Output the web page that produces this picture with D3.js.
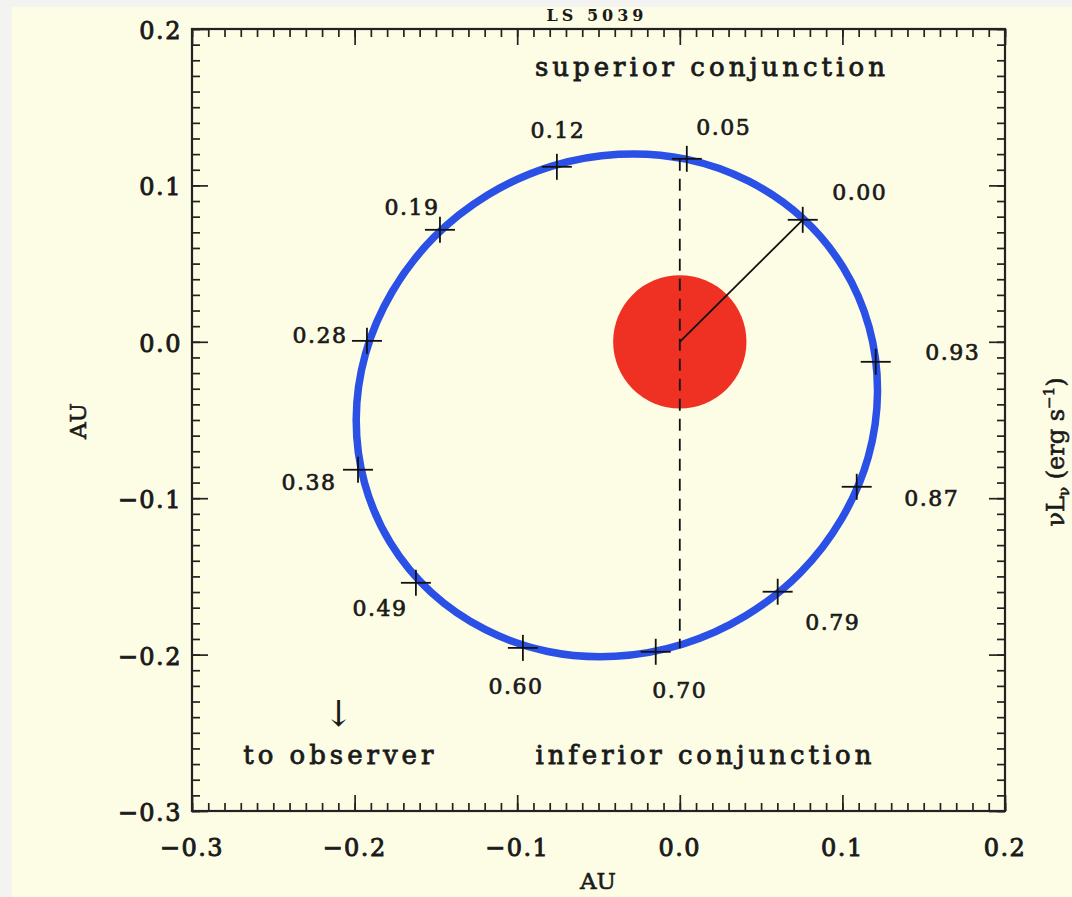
<!DOCTYPE html>
<html><head><meta charset="utf-8">
<script src="https://cdn.jsdelivr.net/npm/d3@7"></script>
<style>
html,body{margin:0;padding:0;background:#f3f3f2;}
svg{display:block;}
text{font-family:"DejaVu Serif",serif;fill:#1a1a1a;}
</style></head><body>
<script>
// ---- data ----
const xTicks = [-0.3,-0.2,-0.1,0.0,0.1,0.2];
const xTickLabels = ["\u22120.3","\u22120.2","\u22120.1","0.0","0.1","0.2"];
const yTicks = [-0.3,-0.2,-0.1,0.0,0.1,0.2];
const yTickLabels = ["\u22120.3","\u22120.2","\u22120.1","0.0","0.1","0.2"];
// orbit points (AU)
const orbitX = [0.0754,0.0424,0.0038,-0.0376,-0.0791,-0.1179,-0.1513,-0.1769,-0.1933,-0.1990,-0.1938,-0.1780,-0.1528,-0.1198,-0.0812,-0.0398,0.0017,0.0405,0.0739,0.0995,0.1159,0.1216,0.1164,0.1006];
const orbitY = [0.0791,0.1027,0.1168,0.1199,0.1122,0.0940,0.0667,0.0320,-0.0076,-0.0493,-0.0906,-0.1285,-0.1603,-0.1839,-0.1980,-0.2011,-0.1934,-0.1752,-0.1479,-0.1132,-0.0736,-0.0319,0.0094,0.0473];
// phase markers
const phaseLabels = ["0.00","0.05","0.12","0.19","0.28","0.38","0.49","0.60","0.70","0.79","0.87","0.93"];
const phaseX = [0.0756,0.0043,-0.0756,-0.1475,-0.1924,-0.1979,-0.1623,-0.0965,-0.0148,0.0602,0.1088,0.1205];
const phaseY = [0.0780,0.1170,0.1119,0.0716,0.0006,-0.0818,-0.1541,-0.1957,-0.1982,-0.1598,-0.0927,-0.0128];
const starX = 0.0, starY = 0.0, starRadiusAU = 0.041;
const periX = 0.0756, periY = 0.0780;
const conjLineY = [0.117, -0.196];
const annotations = ["superior conjunction","inferior conjunction","to observer"];
const annX = [0.0185, 0.0145, -0.210];
const annY = [0.175, -0.265, -0.265];

// ---- layout ----
const W = 1072, H = 897;
const labelDX = [57,37,1,-28,-47,-49,-36,-7,24,55,75,77];
const labelDY = [-28,-32,-37,-23,-6,12,25,38,38,30,11,-10];
const annLen = [350, 336, 190];
const ink = "#1a1a1a";

const svg = d3.select("body").append("svg").attr("width",W).attr("height",H);
svg.append("rect").attr("x",12).attr("y",7).attr("width",W-12).attr("height",H-7).attr("fill","#fdfde5");

const x = d3.scaleLinear().domain([-0.3,0.2]).range([192,1005]);
const y = d3.scaleLinear().domain([-0.3,0.2]).range([811,29]);

// title (near top edge)
svg.append("text").attr("x",597).attr("y",21).attr("text-anchor","middle")
  .attr("font-size",16).attr("font-weight","bold").attr("letter-spacing",4).text("LS 5039");

// minor / major ticks
const minor = d3.range(-30,21).map(d=>d/100);
function addAxis(gen, tr, vals, size){
  const g = svg.append("g").attr("transform",tr).call(gen.tickValues(vals).tickSize(size).tickFormat(""));
  g.select(".domain").remove();
  g.selectAll(".tick line").attr("stroke","#222").attr("stroke-width",1.7);
  return g;
}
addAxis(d3.axisBottom(x), `translate(0,${y(-0.3)})`, minor, -8);
addAxis(d3.axisBottom(x), `translate(0,${y(-0.3)})`, xTicks, -16);
addAxis(d3.axisTop(x), `translate(0,${y(0.2)})`, minor, -8);
addAxis(d3.axisTop(x), `translate(0,${y(0.2)})`, xTicks, -16);
addAxis(d3.axisLeft(y), `translate(${x(-0.3)},0)`, minor, -8);
addAxis(d3.axisLeft(y), `translate(${x(-0.3)},0)`, yTicks, -16);
addAxis(d3.axisRight(y), `translate(${x(0.2)},0)`, minor, -8);
addAxis(d3.axisRight(y), `translate(${x(0.2)},0)`, yTicks, -16);

// frame
svg.append("rect").attr("x",x(-0.3)).attr("y",y(0.2)).attr("width",x(0.2)-x(-0.3)).attr("height",y(-0.3)-y(0.2))
  .attr("fill","none").attr("stroke","#222").attr("stroke-width",2.2);

// tick labels
svg.append("g").selectAll("text").data(xTicks).join("text")
  .attr("x",d=>x(d)).attr("y",y(-0.3)+45).attr("text-anchor","middle")
  .attr("font-size",24).attr("letter-spacing",1.5)
  .attr("stroke",ink).attr("stroke-width",0.9)
  .text((d,i)=>xTickLabels[i]);
svg.append("g").selectAll("text").data(yTicks).join("text")
  .attr("x",x(-0.3)-10).attr("y",d=>y(d)+10).attr("text-anchor","end")
  .attr("font-size",24).attr("letter-spacing",1.5)
  .attr("stroke",ink).attr("stroke-width",0.9)
  .text((d,i)=>yTickLabels[i]);

// axis titles
svg.append("text").attr("x",598).attr("y",889).attr("text-anchor","middle").attr("font-size",23)
  .attr("stroke",ink).attr("stroke-width",0.6).text("AU");
svg.append("text").attr("transform","translate(86,421) rotate(-90)").attr("text-anchor","middle").attr("font-size",23)
  .attr("stroke",ink).attr("stroke-width",0.6).text("AU");
// right-side label
const rl = svg.append("text").attr("transform","translate(1064,452) rotate(-90)").attr("text-anchor","middle").attr("font-size",24)
  .attr("stroke",ink).attr("stroke-width",0.6);
rl.append("tspan").text("\u03BDL");
rl.append("tspan").attr("font-size",15).attr("dy",5).text("\u03BD");
rl.append("tspan").attr("dy",-5).text("  (erg s");
rl.append("tspan").attr("font-size",15).attr("dy",-10).text("\u22121");
rl.append("tspan").attr("dy",10).text(")");

// star
svg.append("circle").attr("cx",x(starX)).attr("cy",y(starY)).attr("r",x(starRadiusAU)-x(0))
  .attr("fill","#ef3124");

// orbit
const pts = orbitX.map((v,i)=>[x(v),y(orbitY[i])]);
svg.append("path").attr("d",d3.line().curve(d3.curveCatmullRomClosed.alpha(0.5))(pts))
  .attr("fill","none").attr("stroke","#2b50e6").attr("stroke-width",7.5);

// dashed conjunction line
svg.append("line").attr("x1",x(0)).attr("x2",x(0)).attr("y1",y(conjLineY[0])).attr("y2",y(conjLineY[1]))
  .attr("stroke","#111").attr("stroke-width",1.8).attr("stroke-dasharray","12,8");
// periastron radius
svg.append("line").attr("x1",x(starX)).attr("y1",y(starY)).attr("x2",x(periX)).attr("y2",y(periY))
  .attr("stroke","#111").attr("stroke-width",1.8);

// phase crosses
const cg = svg.append("g");
phaseX.forEach((v,i)=>{
  const cx=x(v), cy=y(phaseY[i]);
  cg.append("line").attr("x1",cx-15).attr("x2",cx+15).attr("y1",cy).attr("y2",cy).attr("stroke","#111").attr("stroke-width",1.8);
  cg.append("line").attr("x1",cx).attr("x2",cx).attr("y1",cy-13).attr("y2",cy+13).attr("stroke","#111").attr("stroke-width",1.8);
});
svg.append("g").selectAll("text").data(phaseLabels).join("text")
  .attr("x",(d,i)=>x(phaseX[i])+labelDX[i]).attr("y",(d,i)=>y(phaseY[i])+labelDY[i]+8)
  .attr("text-anchor","middle").attr("font-size",22).attr("letter-spacing",1.5)
  .attr("stroke",ink).attr("stroke-width",0.7)
  .text(d=>d);

// annotations
svg.append("g").selectAll("text").data(annotations).join("text")
  .attr("x",(d,i)=>x(annX[i])).attr("y",(d,i)=>y(annY[i])+8)
  .attr("text-anchor","middle").attr("font-size",26)
  .attr("textLength",(d,i)=>annLen[i]).attr("lengthAdjust","spacing")
  .attr("stroke",ink).attr("stroke-width",0.8)
  .text(d=>d);
svg.append("text").attr("x",x(annX[2])).attr("y",y(annY[2])-30).attr("text-anchor","middle")
  .attr("font-family","DejaVu Sans").attr("font-size",36).attr("font-weight","200").text("\u2193");
</script>
</body></html>
